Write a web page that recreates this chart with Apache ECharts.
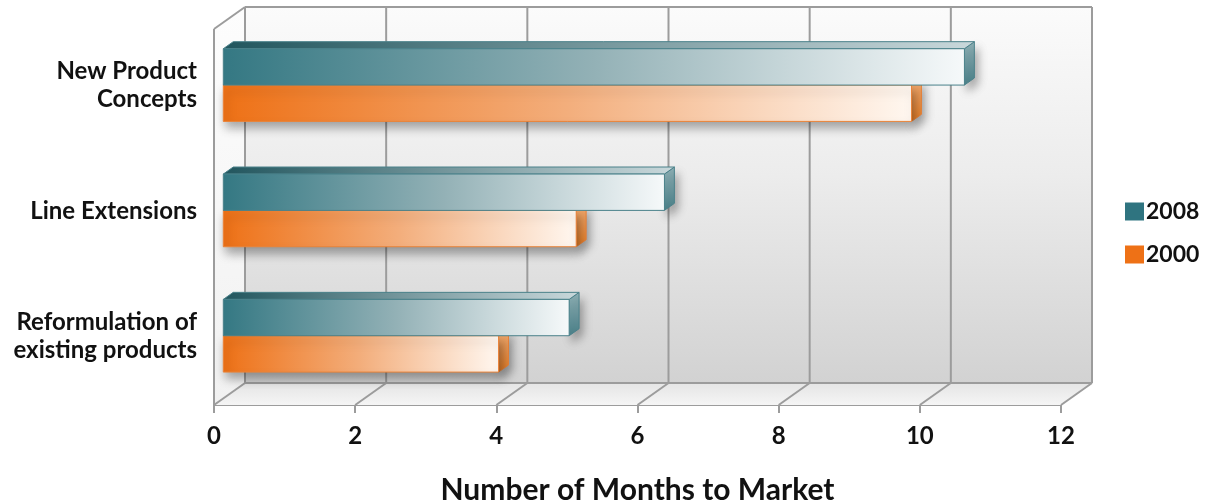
<!DOCTYPE html>
<html>
<head>
<meta charset="utf-8">
<script src="https://cdn.jsdelivr.net/npm/echarts@6/dist/echarts.min.js"></script>
<style>
  html, body { margin: 0; padding: 0; background: #ffffff; }
  #chart { width: 1206px; height: 503px; }
</style>
</head>
<body>
<div id="chart"></div>
<script>
// Months to market by product type, 2008 vs 2000
const categories = ['New Product\nConcepts', 'Line Extensions', 'Reformulation of\nexisting products'];
const seriesNames = ['2008', '2000'];
const values2008 = [10.5, 6.25, 4.9];
const values2000 = [9.75, 5.0, 3.9];
const xTicks = [0, 2, 4, 6, 8, 10, 12];

// pseudo-3D depth of the plot box (pixels from front plane to back wall)
const DEPTH_X = 31;
const DEPTH_Y = -22;
// bars sit between these depth fractions
const BAR_D0 = 0.3;
const BAR_D1 = 0.62;

const FONT = 'Lato, "Open Sans", sans-serif';
const LINE = '#9c9c9c';

const chart = echarts.init(document.getElementById('chart'), null, { renderer: 'canvas' });

// walls, floor and grid lines of the box
function renderFrame(params, api) {
  const cs = params.coordSys;
  const x0 = cs.x, x1 = cs.x + cs.width, yT = cs.y, yB = cs.y + cs.height;
  const children = [];
  if (params.dataIndex === 0) {
    children.push({
      type: 'polygon', z2: 0,
      shape: { points: [[x0 + DEPTH_X, yT + DEPTH_Y], [x1 + DEPTH_X, yT + DEPTH_Y], [x1 + DEPTH_X, yB + DEPTH_Y], [x0 + DEPTH_X, yB + DEPTH_Y]] },
      style: { fill: new echarts.graphic.LinearGradient(0, 0, 0, 1, [
        { offset: 0, color: '#fbfbfb' }, { offset: 0.45, color: '#ececec' }, { offset: 1, color: '#d2d2d2' }]) }
    });
    children.push({
      type: 'polygon', z2: 0,
      shape: { points: [[x0, yT], [x0 + DEPTH_X, yT + DEPTH_Y], [x0 + DEPTH_X, yB + DEPTH_Y], [x0, yB]] },
      style: { fill: new echarts.graphic.LinearGradient(0, 0, 0, 1, [
        { offset: 0, color: '#fdfdfd' }, { offset: 1, color: '#f1f1f1' }]) }
    });
    children.push({
      type: 'polygon', z2: 0,
      shape: { points: [[x0, yB], [x0 + DEPTH_X, yB + DEPTH_Y], [x1 + DEPTH_X, yB + DEPTH_Y], [x1, yB]] },
      style: { fill: new echarts.graphic.LinearGradient(0, 0, 0, 1, [
        { offset: 0, color: '#e5e5e5' }, { offset: 1, color: '#f5f5f5' }]) }
    });
    // outline of the box
    const outline = [
      [[x0, yB], [x0, yT]],
      [[x0, yT], [x0 + DEPTH_X, yT + DEPTH_Y]],
      [[x0 + DEPTH_X, yT + DEPTH_Y], [x1 + DEPTH_X, yT + DEPTH_Y]],
      [[x0 + DEPTH_X, yB + DEPTH_Y], [x1 + DEPTH_X, yB + DEPTH_Y]]
    ];
    outline.forEach(function (seg) {
      children.push({ type: 'line', z2: 2, shape: { x1: seg[0][0], y1: seg[0][1], x2: seg[1][0], y2: seg[1][1] },
        style: { stroke: LINE, lineWidth: 2 } });
    });
  }
  const px = api.coord([api.value(0), 0])[0];
  // vertical grid line on the back wall
  children.push({ type: 'line', z2: 1,
    shape: { x1: px + DEPTH_X, y1: yT + DEPTH_Y, x2: px + DEPTH_X, y2: yB + DEPTH_Y },
    style: { stroke: LINE, lineWidth: 2 } });
  // diagonal on the floor
  children.push({ type: 'line', z2: 1,
    shape: { x1: px, y1: yB, x2: px + DEPTH_X, y2: yB + DEPTH_Y },
    style: { stroke: LINE, lineWidth: 2 } });
  return { type: 'group', children: children };
}

function makeBarRenderer(isUpper, colors) {
  return function (params, api) {
    const cat = api.value(1);
    const end = api.coord([api.value(0), cat]);
    const start = api.coord([0, cat]);
    const h = api.size([0, 1])[1] * 0.29;
    const fx = DEPTH_X * BAR_D0, fy = DEPTH_Y * BAR_D0;
    const bx = DEPTH_X * BAR_D1, by = DEPTH_Y * BAR_D1;
    const top = (isUpper ? end[1] - h : end[1]) + fy;
    const left = start[0] + fx, right = end[0] + fx;
    const bottom = top + h;
    const dx = bx - fx, dy = by - fy;
    const shadow = { shadowBlur: 10, shadowOffsetX: 3, shadowOffsetY: 6, shadowColor: 'rgba(0,0,0,0.35)' };
    const children = [];
    // end cap
    children.push({ type: 'polygon',
      shape: { points: [[right, top], [right + dx, top + dy], [right + dx, bottom + dy], [right, bottom]] },
      style: Object.assign({ fill: new echarts.graphic.LinearGradient(0, 0, 0, 1, [
        { offset: 0, color: colors.capTop }, { offset: 1, color: colors.capBottom }]),
        stroke: colors.edge, lineWidth: 1 }, shadow) });
    // top face
    children.push({ type: 'polygon',
      shape: { points: [[left, top], [left + dx, top + dy], [right + dx, top + dy], [right, top]] },
      style: { fill: new echarts.graphic.LinearGradient(0, 0, 1, 0, [
        { offset: 0, color: colors.topL }, { offset: 1, color: colors.topR }]),
        stroke: colors.edge, lineWidth: 1 } });
    // front face
    children.push({ type: 'rect',
      shape: { x: left, y: top, width: right - left, height: h },
      style: Object.assign({ fill: new echarts.graphic.LinearGradient(0, 0, 1, 0, [
        { offset: 0, color: colors.frontL }, { offset: 0.5, color: colors.frontM }, { offset: 1, color: colors.frontR }]),
        stroke: colors.edge, lineWidth: 1 }, isUpper ? {} : shadow) });
    return { type: 'group', children: children };
  };
}

const teal = {
  frontL: '#347883', frontM: '#93b1b6', frontR: '#f6f9fa',
  topL: '#22565e', topR: '#c9d8db',
  capTop: '#8fb0b5', capBottom: '#4c838c', edge: '#4a818a'
};
const orange = {
  frontL: '#ee7116', frontM: '#f3ae7c', frontR: '#fff7f0',
  topL: '#d8661b', topR: '#f7c9a5',
  capTop: '#f7b27a', capBottom: '#ee8126', edge: '#eb8338'
};

const labelFont = { fontFamily: FONT, fontWeight: 'bold', color: '#111' };

const option = {
  backgroundColor: '#ffffff',
  animation: false,
  grid: [
    // front plane of the box
    { left: 214, right: 145, top: 29, bottom: 98, outerBoundsMode: 'none' },
    // plane the bars sit in, used for the category labels
    { left: 214, right: 145, top: 23, bottom: 104, outerBoundsMode: 'none' }
  ],
  legend: {
    orient: 'vertical', left: 1120, top: 194,
    itemWidth: 19, itemHeight: 18, itemGap: 18, icon: 'rect',
    data: ['2008', '2000'],
    textStyle: Object.assign({ fontSize: 23, lineHeight: 25, padding: [0, 0, 0, -3] }, labelFont)
  },
  xAxis: [
    {
      gridIndex: 0, type: 'value', min: 0, max: 12, interval: 2,
      name: 'Number of Months to Market', nameLocation: 'middle', nameGap: 70,
      nameTextStyle: Object.assign({ fontSize: 30 }, labelFont),
      axisLine: { show: true, lineStyle: { color: LINE, width: 2 } },
      axisTick: { show: true, length: 8, lineStyle: { color: LINE, width: 2 } },
      axisLabel: Object.assign({ fontSize: 24, margin: 19,
        formatter: function (v) { return xTicks.indexOf(v) >= 0 ? String(v) : ''; } }, labelFont),
      splitLine: { show: false }
    },
    {
      gridIndex: 1, type: 'value', min: 0, max: 12, show: false
    }
  ],
  yAxis: [
    {
      gridIndex: 0, type: 'category', inverse: true, data: categories, show: false
    },
    {
      gridIndex: 1, type: 'category', inverse: true, data: categories,
      axisLine: { show: false }, axisTick: { show: false }, splitLine: { show: false },
      axisLabel: Object.assign({ fontSize: 24, margin: 17, align: 'right', lineHeight: 28 }, labelFont)
    }
  ],
  series: [
    {
      name: 'frame', type: 'custom', z: 1, silent: true,
      xAxisIndex: 0, yAxisIndex: 0,
      renderItem: renderFrame,
      data: xTicks.map(function (t) { return [t, 0]; })
    },
    {
      name: '2000', type: 'custom', z: 3,
      xAxisIndex: 0, yAxisIndex: 0,
      itemStyle: { color: '#ee7116' },
      renderItem: makeBarRenderer(false, orange),
      encode: { x: 0, y: 1 },
      data: values2000.map(function (v, i) { return [v, i]; })
    },
    {
      name: '2008', type: 'custom', z: 4,
      xAxisIndex: 0, yAxisIndex: 0,
      itemStyle: { color: '#2f7480' },
      renderItem: makeBarRenderer(true, teal),
      encode: { x: 0, y: 1 },
      data: values2008.map(function (v, i) { return [v, i]; })
    }
  ]
};

chart.setOption(option);
</script>
</body>
</html>
